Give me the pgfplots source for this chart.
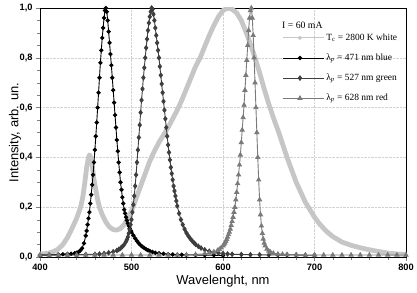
\documentclass[border=0pt]{standalone}
\usepackage{pgfplots}
\pgfplotsset{compat=1.18}
\usepackage{fontspec}
\setmainfont{Liberation Sans}
\newfontfamily\serifleg{Liberation Serif}
\definecolor{wcol}{RGB}{198,198,198}
\definecolor{gcol}{RGB}{62,62,62}
\definecolor{rcol}{RGB}{122,122,122}
\begin{document}
\begin{tikzpicture}
\path[use as bounding box] (-40bp,-36bp) rectangle (377bp,257bp);
\begin{axis}[
  at={(0,0)}, anchor=south west,
  scale only axis, width=366bp, height=249bp,
  xmin=400, xmax=800, ymin=0, ymax=1,
  xtick={400,500,600,700,800},
  ytick={0,0.2,0.4,0.6,0.8,1.0},
  minor x tick num=4, minor y tick num=3,
  tick align=outside, xtick pos=bottom, ytick pos=left,
  major tick length=4bp, minor tick length=2.5bp,
  grid=major, major grid style={gray!35, densely dotted},
  axis line style={line width=0.8bp},
  /pgf/number format/assume math mode=true,
  yticklabel style={/pgf/number format/.cd, fixed, fixed zerofill, precision=1, use comma},
  ticklabel style={font=\bfseries\fontsize{9.3}{11}\selectfont},
  xlabel={Wavelenght, nm}, ylabel={Intensity, arb. un.},
  label style={font=\fontsize{13}{15}\selectfont},
  xlabel style={at={(axis description cs:0.5,-0.096)}, anchor=center},
  ylabel style={at={(axis description cs:-0.068,0.5)}, anchor=center},
  legend style={draw=none, fill=none, at={(axis description cs:0.662,0.905)}, anchor=north west,
    font=\serifleg\fontsize{9.5}{11.5}\selectfont, inner sep=0pt, row sep=8bp,
    cells={anchor=west}},
  legend image code/.code={\draw[#1, mark=none] (0bp,0bp) -- (41bp,0bp);
    \draw[#1, only marks] plot coordinates {(17bp,0bp)};},
]
\addplot[forget plot, color=wcol, line width=4.8bp, line join=round, line cap=round] coordinates {
(400,0.012)(405,0.013)(410,0.016)(415,0.022)(420,0.032)(425,0.05)(430,0.078)(435,0.115)(440,0.155)(443,0.185)(445,0.21)(447,0.245)(449,0.3)(451,0.36)(453,0.40)(454,0.41)(455,0.405)(457,0.37)(459,0.31)(461,0.27)(463,0.23)(465,0.20)(468,0.17)(472,0.14)(476,0.12)(480,0.11)(484,0.108)(488,0.115)(492,0.13)(496,0.155)(500,0.185)(505,0.235)(510,0.285)(515,0.335)(520,0.385)(525,0.425)(530,0.46)(535,0.49)(540,0.52)(545,0.555)(550,0.59)(555,0.63)(560,0.675)(565,0.72)(570,0.765)(575,0.80)(580,0.845)(585,0.89)(590,0.93)(595,0.965)(600,0.99)(605,1.0)(610,0.995)(615,0.98)(620,0.95)(625,0.905)(630,0.855)(635,0.80)(640,0.74)(645,0.675)(650,0.615)(655,0.56)(660,0.51)(665,0.455)(670,0.40)(675,0.35)(680,0.30)(685,0.26)(690,0.22)(695,0.19)(700,0.16)(705,0.135)(710,0.115)(715,0.097)(720,0.082)(730,0.06)(740,0.047)(750,0.037)(760,0.029)(770,0.022)(780,0.016)(790,0.012)(800,0.01)
};
\addlegendimage{color=wcol, line width=0.9bp, mark=*, mark size=1.5bp}
\addlegendentry{T\textsubscript{c} = 2800 K white}
\addplot[color=black, line width=0.9bp, mark=*, mark size=1.7bp] coordinates {
(400,0.008)(410,0.009)(420,0.01)(425,0.011)(430,0.012)(434,0.013)(438,0.015)(440,0.017)(442,0.02)(444,0.026)(446,0.035)(448,0.055)(450,0.085)(451,0.105)(452,0.13)(453,0.155)(454,0.18)(455,0.215)(456,0.25)(457,0.29)(458,0.33)(459,0.38)(460,0.43)(461,0.485)(462,0.54)(463,0.60)(464,0.66)(465,0.72)(466,0.78)(467,0.83)(468,0.88)(469,0.92)(470,0.96)(471,0.99)(472,1.0)(473,0.985)(474,0.95)(475,0.905)(476,0.86)(477,0.815)(478,0.77)(479,0.72)(480,0.67)(481,0.62)(482,0.57)(483,0.52)(484,0.47)(485,0.425)(486,0.38)(487,0.34)(488,0.30)(489,0.27)(490,0.24)(491,0.215)(492,0.19)(493,0.175)(494,0.16)(495,0.147)(496,0.135)(497,0.125)(498,0.115)(499,0.107)(500,0.10)(502,0.087)(504,0.075)(506,0.064)(508,0.055)(510,0.047)(512,0.041)(514,0.036)(516,0.031)(518,0.027)(520,0.024)(523,0.02)(526,0.017)(530,0.015)(535,0.013)(540,0.011)(545,0.010)(550,0.009)(555,0.009)(560,0.008)(570,0.008)(580,0.007)(590,0.007)(600,0.006)
};
\addlegendentry{λ\textsubscript{\itshape p} = 471 nm blue}
\addplot[color=gcol, line width=0.9bp, mark=diamond*, mark size=2.2bp] coordinates {
(400,0.006)(410,0.007)(420,0.008)(430,0.008)(440,0.009)(450,0.01)(460,0.011)(465,0.012)(470,0.014)(475,0.017)(480,0.021)(484,0.026)(486,0.03)(488,0.035)(490,0.042)(492,0.05)(494,0.062)(495,0.07)(496,0.08)(497,0.095)(498,0.11)(499,0.13)(500,0.15)(501,0.18)(502,0.21)(503,0.245)(504,0.285)(505,0.33)(506,0.38)(507,0.43)(508,0.48)(509,0.53)(510,0.58)(511,0.63)(512,0.675)(513,0.72)(514,0.76)(515,0.80)(516,0.84)(517,0.875)(518,0.91)(519,0.94)(520,0.965)(521,0.985)(522,1.0)(523,0.995)(524,0.975)(525,0.95)(526,0.92)(527,0.89)(528,0.86)(529,0.83)(530,0.80)(531,0.765)(532,0.73)(533,0.695)(534,0.66)(535,0.625)(536,0.59)(537,0.555)(538,0.52)(539,0.485)(540,0.45)(541,0.42)(542,0.39)(543,0.36)(544,0.335)(545,0.31)(546,0.285)(547,0.265)(548,0.245)(549,0.225)(550,0.205)(552,0.175)(554,0.15)(556,0.13)(558,0.112)(560,0.097)(562,0.085)(564,0.075)(566,0.066)(568,0.058)(570,0.051)(573,0.043)(576,0.036)(580,0.029)(585,0.023)(590,0.019)(595,0.016)(600,0.014)(605,0.012)(610,0.011)(620,0.01)(630,0.009)(640,0.009)(650,0.008)(660,0.008)(670,0.008)(680,0.008)(690,0.007)(700,0.007)
};
\addlegendentry{λ\textsubscript{\itshape p} = 527 nm green}
\addplot[color=rcol, line width=0.9bp, mark=triangle*, mark size=2.3bp] coordinates {
(400,0.008)(410,0.008)(420,0.008)(430,0.008)(440,0.008)(450,0.008)(460,0.008)(470,0.008)(480,0.008)(490,0.008)(500,0.008)(510,0.008)(520,0.008)(530,0.008)(540,0.008)(550,0.008)(560,0.009)(570,0.01)(580,0.013)(585,0.016)(590,0.02)(594,0.026)(596,0.031)(598,0.037)(600,0.045)(601,0.05)(602,0.056)(603,0.063)(604,0.071)(605,0.08)(606,0.09)(607,0.10)(608,0.112)(609,0.127)(610,0.143)(611,0.16)(612,0.18)(613,0.20)(614,0.23)(615,0.26)(616,0.295)(617,0.33)(618,0.37)(619,0.41)(620,0.46)(621,0.51)(622,0.56)(623,0.61)(624,0.67)(625,0.73)(626,0.79)(627,0.85)(628,0.91)(629,0.96)(630,0.99)(631,1.0)(632,0.96)(633,0.89)(634,0.80)(635,0.70)(636,0.60)(637,0.50)(638,0.40)(639,0.31)(640,0.23)(641,0.17)(642,0.125)(643,0.095)(644,0.072)(645,0.056)(646,0.045)(648,0.032)(650,0.024)(652,0.019)(655,0.015)(660,0.012)(665,0.011)(670,0.01)(680,0.009)(690,0.008)(700,0.008)(710,0.008)(720,0.008)(730,0.008)(740,0.008)(750,0.008)(760,0.008)(770,0.008)(780,0.008)(790,0.008)(800,0.008)
};
\addlegendentry{λ\textsubscript{\itshape p} = 628 nm red}
\node[anchor=west, font=\serifleg\fontsize{9.8}{12}\selectfont, inner sep=0pt] at (axis description cs:0.661,0.93) {I = 60 mA};
\end{axis}
\end{tikzpicture}
\end{document}
